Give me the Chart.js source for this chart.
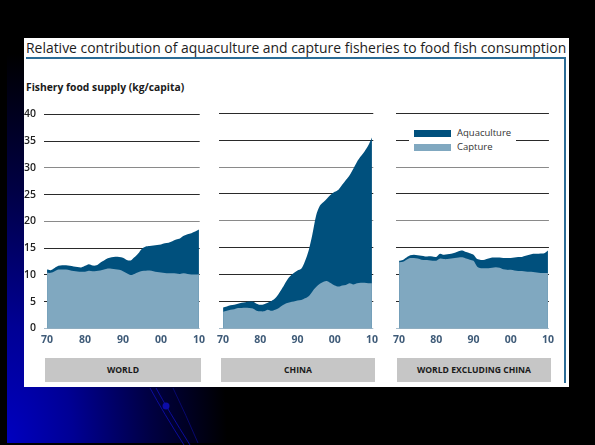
<!DOCTYPE html>
<html>
<head>
<meta charset="utf-8">
<script src="https://cdn.jsdelivr.net/npm/chart.js@4.4.0/dist/chart.umd.min.js"></script>
<style>
  html, body { margin: 0; padding: 0; }
  body { width: 595px; height: 445px; background: #000; position: relative; overflow: hidden; font-family: "Open Sans", "Noto Sans", sans-serif; }
  .abs { position: absolute; }
  #glow { left: 7px; top: 0; width: 588px; height: 443px;
    background: radial-gradient(ellipse 220px 390px at 0px 443px, #0000c0 0%, #000094 30%, #000044 65%, rgba(0,0,0,0) 100%); }
  #sheet { left: 24px; top: 38px; width: 545px; height: 349px; background: #fff; }
  #rule { left: 26px; top: 57px; width: 540px; height: 2px; background: #2b6c96; }
  #side { left: 564px; top: 57px; width: 2px; height: 326px; background: #2b6c96; }
  .fit { white-space: nowrap; transform-origin: 0 0; line-height: 1; }
  #title { left: 26px; top: 40px; font-size: 15px; color: #1d1d1d; }
  #ylabel { left: 26px; top: 82px; font-size: 10px; font-weight: 700; color: #1a1a1a; }
  canvas { position: absolute; }
  .cat { top: 358px; height: 24px; background: #c6c6c6; color: #1a1a1a; font-size: 8.6px; font-weight: 700;
    display: flex; align-items: center; justify-content: center; }
  #legend { left: 409px; top: 124px; width: 107px; height: 31px; background: #fff; }
  .sw { position: absolute; left: 5px; width: 37px; height: 7px; }
  .lt { position: absolute; left: 48px; font-size: 9.5px; color: #333; line-height: 10px; }
</style>
</head>
<body>
<div id="glow" class="abs"></div>
<svg class="abs" style="left:0;top:0" width="595" height="445">
  <path d="M150 388 Q163 412 184 445" stroke="#0c0c9c" stroke-width="1" fill="none"/>
  <path d="M156 388 Q168 410 190 445" stroke="#0c0c9c" stroke-width="1" fill="none"/>
  <path d="M173 388 Q186 415 198 443" stroke="#08086e" stroke-width="1" fill="none"/>
  <circle cx="166" cy="406" r="3.5" fill="#0c0ca8"/>
</svg>
<div id="sheet" class="abs"></div>
<div id="title" class="abs fit" data-w="540">Relative contribution of aquaculture and capture fisheries to food fish consumption</div>
<div id="rule" class="abs"></div>
<div id="side" class="abs"></div>
<div id="ylabel" class="abs fit" data-w="158">Fishery food supply (kg/capita)</div>

<canvas id="world" width="190" height="250" style="left:20px;top:100px"></canvas>
<canvas id="china" width="171" height="250" style="left:212px;top:100px"></canvas>
<canvas id="rest" width="171" height="250" style="left:388px;top:100px"></canvas>

<div id="legend" class="abs">
  <div class="sw" style="top:6px;background:#00507d"></div>
  <div class="lt" style="top:4px">Aquaculture</div>
  <div class="sw" style="top:20px;background:#80a8c0"></div>
  <div class="lt" style="top:18px">Capture</div>
</div>

<div class="abs cat" style="left:45px;width:156px">WORLD</div>
<div class="abs cat" style="left:221px;width:154px">CHINA</div>
<div class="abs cat" style="left:397px;width:154px">WORLD EXCLUDING CHINA</div>

<script>
// Years and tick labels
const years = [];
for (let y = 1970; y <= 2010; y++) years.push(y);
const xTickYears = [1970, 1980, 1990, 2000, 2010];
const xTickLabels = ['70', '80', '90', '00', '10'];
const yTicks = [0, 5, 10, 15, 20, 25, 30, 35, 40];

// World (kg/capita): total supply and capture part
const worldTotal = [11.0, 10.9, 11.3, 11.7, 11.8, 11.8, 11.7, 11.6, 11.5, 11.4,
  11.7, 12.0, 11.75, 11.8, 12.3, 12.7, 13.1, 13.3, 13.4, 13.35,
  13.2, 12.8, 12.7, 13.3, 14.0, 14.9, 15.3, 15.4, 15.5, 15.6,
  15.7, 15.9, 16.0, 16.3, 16.6, 16.8, 17.3, 17.6, 17.8, 18.1, 18.5];
const worldCapture = [10.4, 10.4, 10.7, 11.0, 11.0, 11.0, 10.9, 10.75, 10.65, 10.6,
  10.6, 10.8, 10.7, 10.75, 10.85, 11.0, 11.2, 11.15, 11.05, 10.95,
  10.7, 10.3, 10.0, 10.2, 10.5, 10.75, 10.8, 10.85, 10.7, 10.55,
  10.45, 10.35, 10.3, 10.3, 10.25, 10.2, 10.3, 10.2, 10.1, 10.1, 10.15];

// China
const chinaTotal = [3.9, 4.1, 4.3, 4.4, 4.6, 4.8, 4.9, 5.0, 5.0, 4.6,
  4.4, 4.5, 4.8, 5.1, 5.6, 6.5, 7.6, 8.8, 9.7, 10.3,
  10.8, 11.1, 12.5, 14.5, 17.5, 21.0, 22.8, 23.5, 24.2, 24.9,
  25.4, 25.8, 26.7, 27.6, 28.5, 29.7, 31.0, 32.0, 32.9, 34.0, 35.5];
const chinaCapture = [3.1, 3.3, 3.5, 3.6, 3.8, 3.8, 3.85, 3.8, 3.7, 3.3,
  3.2, 3.2, 3.5, 3.3, 3.5, 3.8, 4.3, 4.7, 4.9, 5.0,
  5.2, 5.3, 5.6, 6.0, 6.9, 7.7, 8.3, 8.7, 8.8, 8.4,
  8.0, 7.8, 8.0, 8.1, 8.4, 8.2, 8.4, 8.5, 8.5, 8.4, 8.4];

// World excluding China
const restTotal = [12.6, 12.75, 13.2, 13.6, 13.7, 13.6, 13.5, 13.4, 13.45, 13.4,
  13.3, 13.9, 13.7, 13.8, 13.9, 14.1, 14.35, 14.5, 14.2, 14.0,
  13.7, 12.9, 12.75, 12.8, 13.0, 13.2, 13.2, 13.2, 13.1, 13.1,
  13.1, 13.2, 13.3, 13.3, 13.5, 13.7, 13.9, 13.9, 13.95, 14.0, 14.5];
const restCapture = [12.3, 12.4, 12.8, 13.1, 13.1, 13.0, 12.8, 12.75, 12.7, 12.6,
  12.6, 13.0, 12.9, 12.9, 13.0, 13.1, 13.2, 13.25, 13.0, 12.8,
  12.6, 11.5, 11.2, 11.2, 11.2, 11.3, 11.4, 11.3, 11.0, 10.9,
  10.9, 10.8, 10.7, 10.7, 10.6, 10.55, 10.5, 10.4, 10.3, 10.3, 10.3];

const AQUA = '#00507d';
const CAPT = '#80a8c0';

function gridColor(ctx) {
  const v = ctx.tick && ctx.tick.value;
  if (v === 0) return '#a7bccb';
  if (v === 20 || v === 30) return '#8a8a8a';
  return '#2a2a2a';
}

function makePanel(id, total, capture, cfg) {
  const pts = arr => arr.map((v, i) => ({ x: years[i], y: v }));
  new Chart(document.getElementById(id), {
    type: 'line',
    data: {
      datasets: [
        { label: 'Capture', data: pts(capture), fill: 'origin', backgroundColor: CAPT,
          borderWidth: 0, pointRadius: 0, tension: 0.3 },
        { label: 'Aquaculture', data: pts(total), fill: 'origin', backgroundColor: AQUA,
          borderWidth: 0, pointRadius: 0, tension: 0.3 }
      ]
    },
    options: {
      responsive: false,
      animation: false,
      layout: { padding: { left: cfg.padLeft, right: cfg.padRight, top: 13.3, bottom: 5.5 } },
      plugins: { legend: { display: false }, tooltip: { enabled: false } },
      scales: {
        x: {
          type: 'linear', min: cfg.min, max: cfg.max,
          grid: { display: false, drawTicks: false },
          border: { display: false },
          afterBuildTicks: s => { s.ticks = xTickYears.map(v => ({ value: v })); },
          afterFit: s => { s.height = 16; },
          ticks: {
            padding: 5, maxRotation: 0, autoSkip: false,
            color: '#3f5b78',
            font: { family: '"Open Sans", "Noto Sans", sans-serif', size: 10.5, weight: 'bold' },
            callback: v => xTickLabels[xTickYears.indexOf(v)]
          }
        },
        y: {
          min: 0, max: 40,
          afterBuildTicks: s => { s.ticks = yTicks.map(v => ({ value: v })); },
          afterFit: s => { s.width = cfg.yWidth; },
          border: { display: false },
          grid: { color: gridColor, lineWidth: 1, drawTicks: false },
          ticks: {
            display: cfg.yLabels, padding: 8, color: '#222',
            font: { family: '"Open Sans", "Noto Sans", sans-serif', size: 10.5, weight: '600' }
          }
        }
      }
    }
  });
}

makePanel('world', worldTotal, worldCapture, { padLeft: 0, padRight: 8.3, yWidth: 24, yLabels: true, min: 1969.2, max: 2010.2 });
makePanel('china', chinaTotal, chinaCapture, { padLeft: 5, padRight: 7.3, yWidth: 0, yLabels: false, min: 1968.95, max: 2010.36 });
makePanel('rest', restTotal, restCapture, { padLeft: 5, padRight: 8, yWidth: 0, yLabels: false, min: 1969.2, max: 2010.26 });

// squeeze headings to the widths seen in the original
document.querySelectorAll('.fit').forEach(el => {
  const w = +el.dataset.w;
  el.style.transform = 'scaleX(' + (w / el.scrollWidth) + ')';
});
</script>
</body>
</html>
